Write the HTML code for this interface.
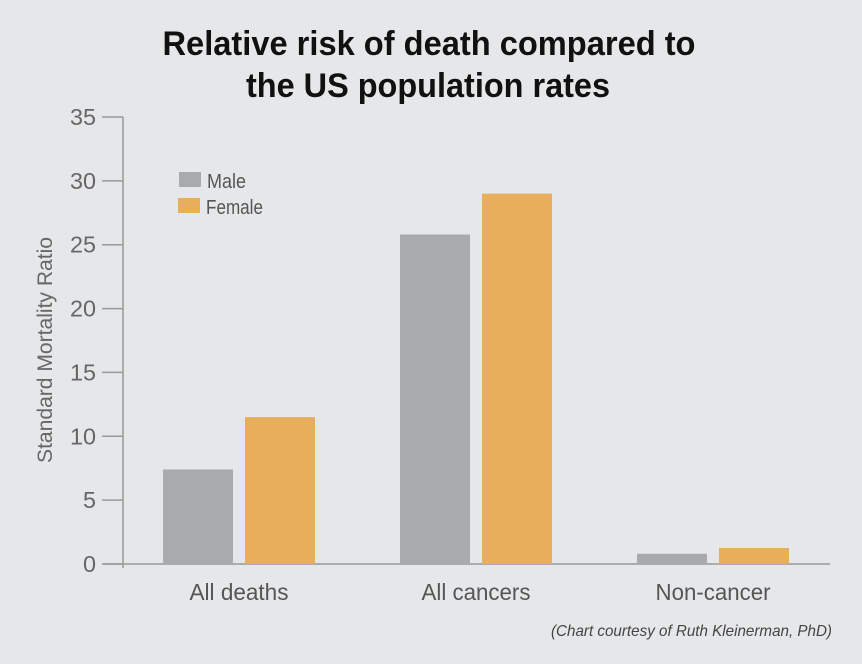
<!DOCTYPE html>
<html><head><meta charset="utf-8"><style>
html,body{margin:0;padding:0;background:#e6e7e9;}
svg{display:block;font-family:"Liberation Sans Narrow","Liberation Sans",sans-serif;}
</style></head><body>
<svg id="chart" width="862" height="664" viewBox="0 0 862 664">
<rect width="862" height="664" fill="#e6e7e9"/>
<text x="429" y="55" text-anchor="middle" font-size="34" font-weight="bold" fill="#111" textLength="533" lengthAdjust="spacingAndGlyphs">Relative risk of death compared to</text>
<text x="428" y="97" text-anchor="middle" font-size="34" font-weight="bold" fill="#111" textLength="364" lengthAdjust="spacingAndGlyphs">the US population rates</text>
<text transform="translate(52,350) rotate(-90)" text-anchor="middle" font-size="21" fill="#666" textLength="226" lengthAdjust="spacingAndGlyphs">Standard Mortality Ratio</text>
<g id="yaxis"></g>
<g id="bars"></g>
<g id="xlabels"></g>
<rect x="179" y="172" width="22" height="15" fill="#a9aaad"/>
<text x="207" y="188" font-size="20" fill="#555" textLength="39" lengthAdjust="spacingAndGlyphs">Male</text>
<rect x="178" y="198" width="22" height="15" fill="#e8ae5c"/>
<text x="206" y="214" font-size="20" fill="#555" textLength="57" lengthAdjust="spacingAndGlyphs">Female</text>
<text x="551" y="636" font-size="16" font-style="italic" fill="#444" textLength="281" lengthAdjust="spacingAndGlyphs">(Chart courtesy of Ruth Kleinerman, PhD)</text>
</svg>
<script>
const categories=["All deaths","All cancers","Non-cancer"];
const maleValues=[7.4,25.8,0.8];
const femaleValues=[11.5,29.0,1.25];
const yTicks=[0,5,10,15,20,25,30,35];
const labelWidths=[99,109,115];
const NS="http://www.w3.org/2000/svg";
const y0=564,y35=117,yMax=35;
function yScale(v){return y0-(y0-y35)*v/yMax;}
function xGroup(i){return 163+237*i;}
function mk(tag,attrs,parent){const e=document.createElementNS(NS,tag);for(const k in attrs)e.setAttribute(k,attrs[k]);parent.appendChild(e);return e;}
const ya=document.getElementById('yaxis');
let l=mk('line',{x1:123,y1:y35,x2:123,y2:y0+4,stroke:'#999','stroke-width':1.5},ya);


l=mk('line',{x1:102,y1:y0,x2:830,y2:y0,stroke:'#999','stroke-width':1.5},ya);


yTicks.forEach(t=>{
  const y=yScale(t);
  const tk=mk('line',{x1:102,y1:y,x2:123,y2:y,stroke:'#999','stroke-width':1.5},ya);
  
  
  const tx=mk('text',{x:96,y:y+8,'text-anchor':'end','font-size':23,fill:'#666',textLength:(String(t).length*13),lengthAdjust:'spacingAndGlyphs'},ya);
  tx.textContent=t;
  
  
});
const bg=document.getElementById('bars'),xl=document.getElementById('xlabels');
categories.forEach((c,i)=>{
  const x=xGroup(i);
  const m=mk('rect',{x:x,y:yScale(maleValues[i]),width:70,height:y0-yScale(maleValues[i]),fill:'#a9aaad'},bg);
  
  
  const f=mk('rect',{x:x+82,y:yScale(femaleValues[i]),width:70,height:y0-yScale(femaleValues[i]),fill:'#e8ae5c'},bg);
  
  
  const t=mk('text',{x:x+76,y:600,'text-anchor':'middle','font-size':23,fill:'#555',textLength:labelWidths[i],lengthAdjust:'spacingAndGlyphs'},xl);
  t.textContent=c;
  
  
});
</script>
</body></html>
